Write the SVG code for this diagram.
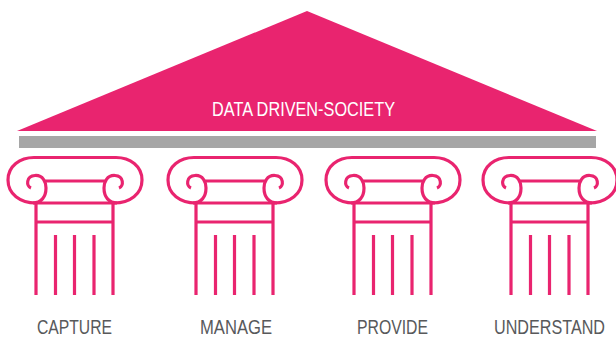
<svg xmlns="http://www.w3.org/2000/svg" width="616" height="338" viewBox="0 0 616 338">
<style>
.l{fill:none;stroke:#e9246f;stroke-width:3.2;stroke-linecap:butt}
.t{font-family:"Liberation Sans",Arial,sans-serif;font-size:20px;fill:#58595b}
</style>
<defs>
<g id="pillar" class="l">
<path d="M36 203C20 203 8 194 8 180S20 157.500 34 157.500H116C130 157.500 142 166 142 180S130 203 114 203Z"/>
<path d="M31 188C26 186 26 176 35 175.500C43 175 46 182 46 188C46 197 41 203 33 203"/>
<path d="M119 188C124 186 124 176 115 175.500C107 175 104 182 104 188C104 197 109 203 117 203"/>
<path d="M45 181H105M36 203V295M113 203V295M36 222H113M55.500 235V295M74.500 235V295M94 235V295"/>
</g>
</defs>
<g id="roof">
<path d="M307 11L597 131H17Z" fill="#e9246f"/>
<text x="212" y="116" class="t" style="fill:#fff" textLength="183" lengthAdjust="spacingAndGlyphs">DATA DRIVEN-SOCIETY</text>
</g>
<g id="beam"><rect x="19" y="136" width="577" height="12" fill="#a6a6a6"/></g>
<g id="capture"><use href="#pillar"/><text x="37" y="334" class="t" textLength="75" lengthAdjust="spacingAndGlyphs">CAPTURE</text></g>
<g id="manage"><use href="#pillar" x="160"/><text x="200" y="334" class="t" textLength="72" lengthAdjust="spacingAndGlyphs">MANAGE</text></g>
<g id="provide"><use href="#pillar" x="318"/><text x="357" y="334" class="t" textLength="71" lengthAdjust="spacingAndGlyphs">PROVIDE</text></g>
<g id="understand"><use href="#pillar" x="475"/><text x="494" y="334" class="t" textLength="111" lengthAdjust="spacingAndGlyphs">UNDERSTAND</text></g>
<g id="connectors"/>
</svg>
